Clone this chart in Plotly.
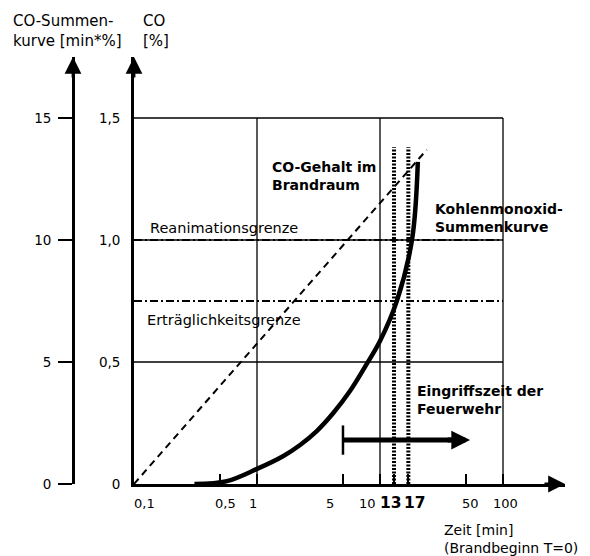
import numpy as np
import plotly.graph_objects as go

# ---- data ----
# Kohlenmonoxid-Summenkurve (left axis, min*%)
sum_t = [0.31, 0.57, 1.0, 1.64, 2.24, 3.06, 4.17, 5.7, 7.8, 10.0, 13.7, 18.2, 20.3]
sum_v = [0.0, 0.12, 0.62, 1.15, 1.6, 2.17, 2.91, 3.81, 4.92, 5.86, 7.5, 10.0, 13.2]
# CO-Gehalt im Brandraum (CO %)
co_t = [0.1, 24.0]
co_v = [0.0, 1.37]
# limits (CO %)
reanimation = 1.0
ertraeglich = 0.75
# times of interest
mark_times = [13, 17]
mark_top = 1.38
eingriff_start = 5
eingriff_end = 54
eingriff_level = 0.18
# ticks
x_tickvals = [0.1, 0.5, 1, 5, 10, 13, 17, 50, 100]
x_ticktext = ["0,1", "0,5", "1", "5", "10", "<b>13</b>", "<b>17</b>", "50", "100"]
y_tickvals = [0, 0.5, 1.0, 1.5]
y_ticktext = ["0", "0,5", "1,0", "1,5"]
y2_tickvals = [0, 5, 10, 15]
y2_ticktext = ["0", "5", "10", "15"]
grid_x = [1, 10, 100]
grid_y = [0.5, 1.0, 1.5]

# style: label offsets (px) relative to tick
x_label_shift = [10, 6, -4, -13, -13, -3, 7, 5, 2]
x_label_size = [13, 13, 13, 13, 13, 15.5, 15.5, 13, 13]

FONT = "DejaVu Sans, Liberation Sans, Arial, sans-serif"
K = "black"

fig = go.Figure()

# grid box
for gx in grid_x:
    fig.add_trace(go.Scatter(x=[gx, gx], y=[0, 1.5], mode="lines",
                             line=dict(color=K, width=1.3), hoverinfo="skip"))
for gy in grid_y:
    fig.add_trace(go.Scatter(x=[0.1, 100], y=[gy, gy], mode="lines",
                             line=dict(color=K, width=1.3), hoverinfo="skip"))

# limit lines
for lv in [reanimation, ertraeglich]:
    fig.add_trace(go.Scatter(x=[0.1, 100], y=[lv, lv], mode="lines",
                             line=dict(color=K, width=2, dash="8px,3px,2px,3px"),
                             hoverinfo="skip"))

# dotted verticals 13 / 17
for mt in mark_times:
    fig.add_trace(go.Scatter(x=[mt, mt], y=[0, mark_top], mode="lines",
                             line=dict(color=K, width=4, dash="2px,1.5px"), hoverinfo="skip"))

# CO-Gehalt (dashed)
fig.add_trace(go.Scatter(x=co_t, y=co_v, mode="lines",
                         line=dict(color=K, width=2, dash="7px,5px"), hoverinfo="skip"))

# Summenkurve on left axis
fig.add_trace(go.Scatter(x=sum_t, y=sum_v, mode="lines", yaxis="y2",
                         line=dict(color=K, width=4.5, shape="spline", smoothing=1.0),
                         hoverinfo="skip"))

# Eingriffszeit bar + arrow
fig.add_trace(go.Scatter(x=[eingriff_start, eingriff_start], y=[0.12, 0.24], mode="lines",
                         line=dict(color=K, width=2.5), hoverinfo="skip"))
fig.add_trace(go.Scatter(x=[eingriff_start, eingriff_end * 0.7], y=[eingriff_level, eingriff_level],
                         mode="lines", line=dict(color=K, width=5), hoverinfo="skip"))

annotations = []
# Eingriff arrow head
annotations.append(dict(x=np.log10(eingriff_end), y=eingriff_level, xref="x", yref="y",
                        ax=-24, ay=0, axref="pixel", ayref="pixel", text="", showarrow=True,
                        arrowhead=2, arrowsize=0.75, arrowwidth=5, arrowcolor=K))

# axis arrow heads
x_dom0 = (134 - 60) / 505
y2_pos = (73 - 60) / 505
for xp in [x_dom0, y2_pos]:
    annotations.append(dict(x=xp, y=1, xref="paper", yref="paper", ax=0, ay=22,
                            text="", showarrow=True, arrowhead=2, arrowsize=1.2,
                            arrowwidth=2.8, arrowcolor=K))
annotations.append(dict(x=1, y=0, xref="paper", yref="y", ax=-22, ay=0,
                        text="", showarrow=True, arrowhead=2, arrowsize=1.2,
                        arrowwidth=2.8, arrowcolor=K))

# x tick labels
for v, t, sh, fs in zip(x_tickvals, x_ticktext, x_label_shift, x_label_size):
    annotations.append(dict(x=np.log10(v), y=-19 / 427, xref="x", yref="paper",
                            xanchor="center", yanchor="middle", xshift=sh,
                            text=t, showarrow=False,
                            font=dict(family=FONT, size=fs, color=K)))

# text placed by page pixel position (page has an 8px body margin)
def ptxt(px, py, s, size=13, xanchor="left", yanchor="top"):
    annotations.append(dict(x=(px - 60) / 505, y=(484 - py) / 427, xref="paper", yref="paper",
                            xanchor=xanchor, yanchor=yanchor, align="left",
                            text=s, showarrow=False,
                            font=dict(family=FONT, size=size, color=K)))

ptxt(11, 10, "CO-Summen-<br>kurve [min*%]", size=15)
ptxt(141, 10, "CO<br>[%]", size=15)
ptxt(442, 520, "Zeit [min]<br>(Brandbeginn T=0)", size=14)
ptxt(270, 157, "<b>CO-Gehalt im<br>Brandraum</b>", size=14)
ptxt(433, 199, "<b>Kohlenmonoxid-<br>Summenkurve</b>", size=14)
ptxt(148, 218, "Reanimationsgrenze", size=14.5)
ptxt(145, 310, "Erträglichkeitsgrenze", size=14.5)
ptxt(415, 381, "<b>Eingriffszeit der<br>Feuerwehr</b>", size=14)

fig.update_layout(
    width=590, height=556,
    margin=dict(l=52, r=33, t=49, b=80, autoexpand=False),
    paper_bgcolor="white", plot_bgcolor="white",
    showlegend=False,
    font=dict(family=FONT, size=13, color=K),
    xaxis=dict(type="log", domain=[x_dom0, 1], range=[-1, 2.504],
               tickvals=x_tickvals, showticklabels=False,
               ticks="inside", ticklen=10, tickwidth=2, tickcolor=K,
               showgrid=False, zeroline=False, automargin=False,
               showline=True, linewidth=2.8, linecolor=K),
    yaxis=dict(range=[0, 1.75], domain=[0, 1],
               tickvals=y_tickvals, ticktext=y_ticktext,
               ticks="", showgrid=False, zeroline=False, automargin=False,
               showline=True, linewidth=2.8, linecolor=K,
               ticklabelstandoff=8, tickfont=dict(size=13.5)),
    yaxis2=dict(range=[0, 17.5], overlaying="y", anchor="free", position=y2_pos,
                side="left", tickvals=y2_tickvals, ticktext=y2_ticktext,
                ticks="outside", ticklen=14, tickwidth=2, tickcolor=K,
                showgrid=False, zeroline=False, automargin=False,
                showline=True, linewidth=2.8, linecolor=K,
                tickfont=dict(size=13.5), ticklabelstandoff=4),
    annotations=annotations,
)

fig.write_html("out.html")
